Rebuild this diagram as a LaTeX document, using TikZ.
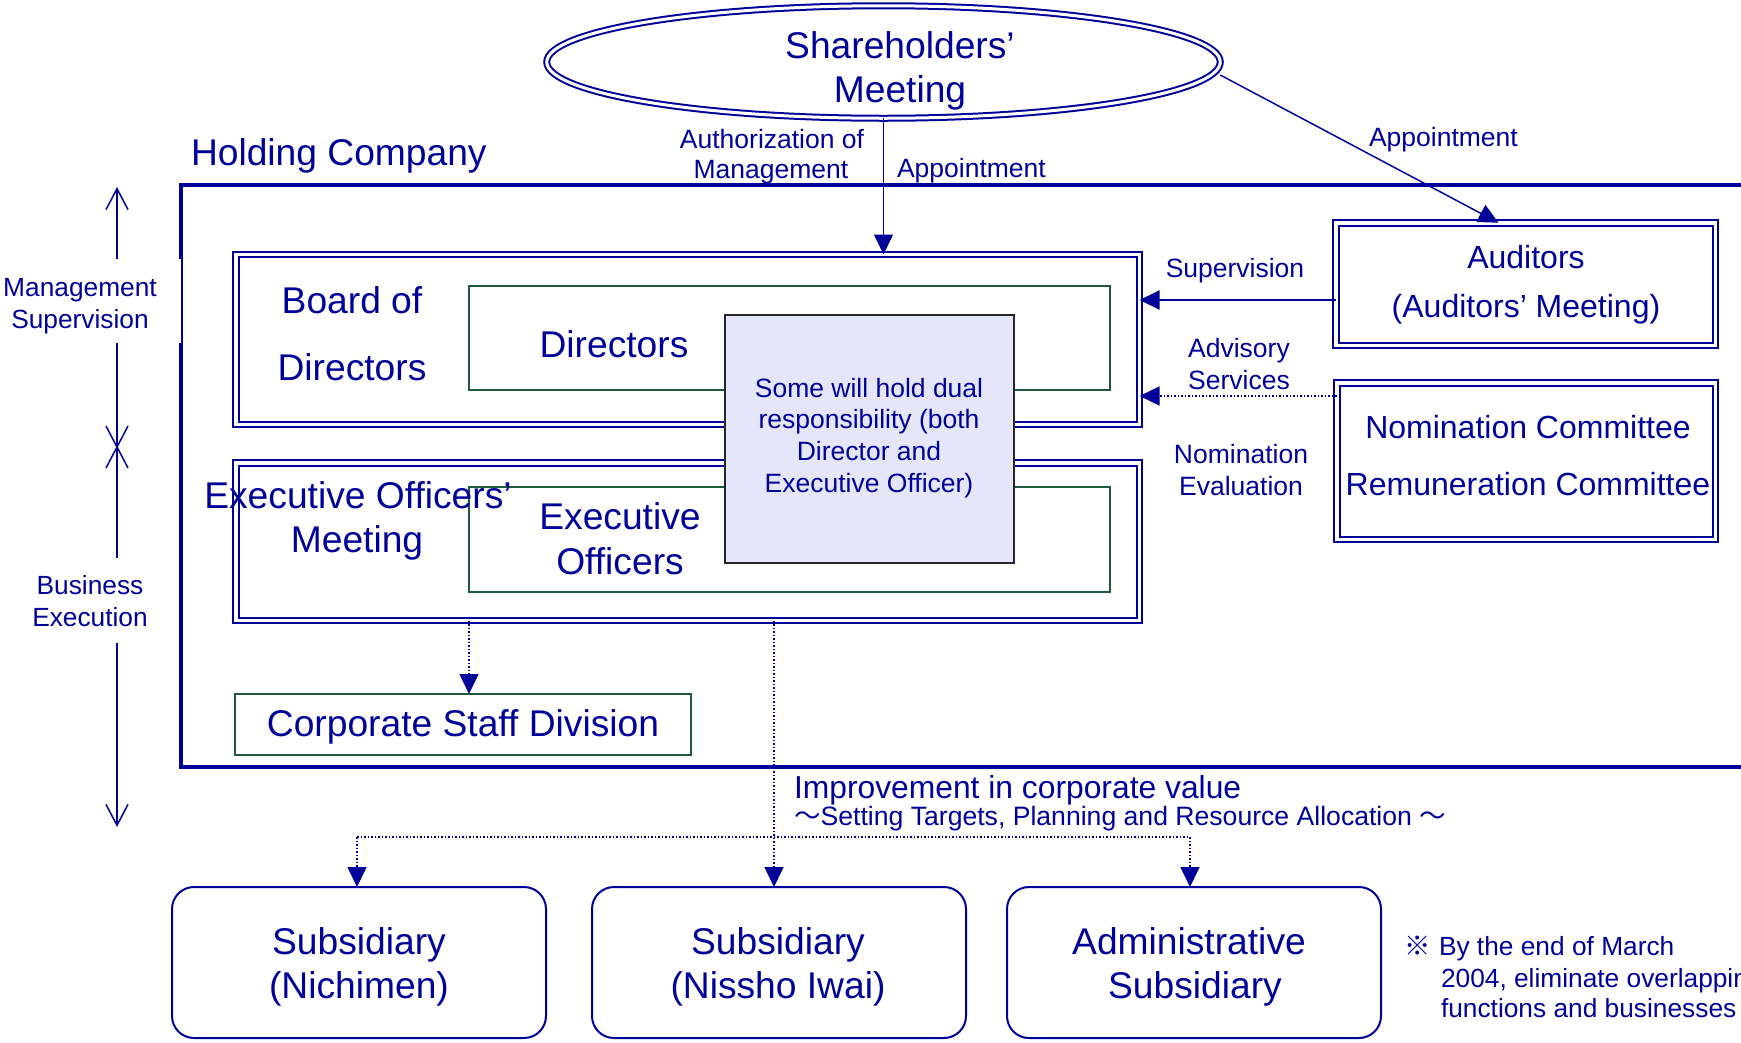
\documentclass[tikz,border=0pt]{standalone}
\usepackage{fontspec}
\setmainfont{Liberation Sans}
\newfontfamily\cjkfont{Noto Sans CJK JP}
\usetikzlibrary{shapes.geometric,arrows.meta}
\definecolor{navy}{RGB}{0,0,153}
\definecolor{boxgreen}{RGB}{30,90,60}
\definecolor{lav}{RGB}{230,230,250}
\begin{document}
\begin{tikzpicture}[x=1pt,y=-1pt,
  lbl/.style={inner sep=0pt, outer sep=0pt, text=navy, anchor=base},
  lblw/.style={lbl, anchor=base west},
  fbig/.style={font=\fontsize{37.2}{40}\selectfont},
  fmid/.style={font=\fontsize{32}{36}\selectfont},
  fsmall/.style={font=\fontsize{26.5}{30}\selectfont},
  dblbox/.style={rectangle, draw=navy, double=white, line width=2pt, double distance=3.5pt, inner sep=0pt, outer sep=0pt},
  greenbox/.style={rectangle, draw=boxgreen, line width=2pt, inner sep=0pt, outer sep=0pt},
  subbox/.style={rectangle, draw=navy, line width=2pt, rounded corners=22pt, inner sep=0pt, outer sep=0pt},
  solidarrow/.style={-{Triangle[length=20pt,width=19pt]}},
  conn/.style={draw=navy, line width=1.5pt},
  dotconn/.style={draw=navy, line width=1.5pt, dash pattern=on 1.5pt off 2pt},
  openends/.style={{Straight Barb[length=21pt,width=22pt]}-{Straight Barb[length=21pt,width=22pt]}},
]
\clip (0,0) rectangle (1741,1042);

% outer frame of the holding company
\node[rectangle, draw=navy, line width=4.5pt, inner sep=0pt, outer sep=0pt,
      minimum width=1579pt, minimum height=582pt] (hold) at (970.5,476) {};
\node[lblw, fbig] (holdtxt) at (191,165) {Holding Company};

% shareholders' meeting
\node[ellipse, draw=navy, double=white, line width=2pt, double distance=3pt,
      inner sep=0pt, outer sep=0pt, minimum width=673.5pt, minimum height=112.5pt] (share) at (883.5,62) {};
\node[lbl, fbig] (sharet1) at (900,58) {Shareholders’};
\node[lbl, fbig] (sharet2) at (900,102) {Meeting};

% board and executive officers' meeting
\node[dblbox, minimum width=903.5pt, minimum height=170pt] (board) at (687.75,339.5) {};
\node[dblbox, minimum width=903.5pt, minimum height=157.5pt] (exec) at (687.75,541.75) {};
\node[greenbox, minimum width=641pt, minimum height=104pt] (dir) at (789.5,338) {};
\node[greenbox, minimum width=641pt, minimum height=105pt] (eo) at (789.5,539.5) {};
\node[rectangle, draw=black!85, fill=lav, line width=2pt, inner sep=0pt, outer sep=0pt,
      minimum width=289pt, minimum height=248pt] (dual) at (869.5,439) {};

\node[lbl, fbig] (boardt1) at (352,313) {Board of};
\node[lbl, fbig] (boardt2) at (352,380) {Directors};
\node[lbl, fbig] (dirt) at (614,357) {Directors};
\node[lbl, fbig] (exect1) at (358,508) {Executive Officers’};
\node[lbl, fbig] (exect2) at (357,552) {Meeting};
\node[lbl, fbig] (eot1) at (620,529) {Executive};
\node[lbl, fbig] (eot2) at (620,574) {Officers};
\node[lbl, fsmall] (dualt1) at (869,397) {Some will hold dual};
\node[lbl, fsmall] (dualt2) at (869,428) {responsibility (both};
\node[lbl, fsmall] (dualt3) at (869,460) {Director and};
\node[lbl, fsmall] (dualt4) at (869,492) {Executive Officer)};

% corporate staff
\node[greenbox, minimum width=456pt, minimum height=61pt] (corp) at (463,724.5) {};
\node[lbl, fbig] (corpt) at (463,736) {Corporate Staff Division};

% auditors and committees
\node[dblbox, minimum width=379.5pt, minimum height=122.5pt] (aud) at (1525.5,284) {};
\node[lbl, fmid] (audt1) at (1526,268) {Auditors};
\node[lbl, fmid] (audt2) at (1526,317) {(Auditors’ Meeting)};
\node[dblbox, minimum width=378.5pt, minimum height=156.5pt] (nom) at (1526,461) {};
\node[lbl, fmid] (nomt1) at (1528,438) {Nomination Committee};
\node[lbl, fmid] (nomt2) at (1528,495) {Remuneration Committee};

% subsidiaries
\node[subbox, minimum width=374pt, minimum height=151pt] (sub1) at (359,962.5) {};
\node[subbox, minimum width=374pt, minimum height=151pt] (sub2) at (779,962.5) {};
\node[subbox, minimum width=374pt, minimum height=151pt] (sub3) at (1194,962.5) {};
\node[lbl, fbig] (sub1t1) at (359,954) {Subsidiary};
\node[lbl, fbig] (sub1t2) at (359,998) {(Nichimen)};
\node[lbl, fbig] (sub2t1) at (778,954) {Subsidiary};
\node[lbl, fbig] (sub2t2) at (778,998) {(Nissho Iwai)};
\node[lbl, fbig] (sub3t1) at (1189,954) {Administrative};
\node[lbl, fbig] (sub3t2) at (1195,998) {Subsidiary};

% connectors from the shareholders' meeting
\draw[conn, navy, solidarrow] (share.south) -- (share.south |- board.north);
\draw[conn, navy, solidarrow] ([yshift=-13pt]share.east) -- ([xshift=-27pt]aud.north);
\node[lbl, fsmall] (authA) at (772,148) {Authorization of};
\node[lbl, fsmall] (authB) at (771,178) {Management};
\node[lblw, fsmall] (appt1) at (897,177) {Appointment};
\node[lblw, fsmall] (appt2) at (1369,146) {Appointment};

% connectors into the board
\draw[navy, line width=2pt, solidarrow] ([yshift=-16pt]aud.west) -- ([yshift=-16pt]aud.west -| board.east);
\draw[dotconn, solidarrow] ([yshift=65pt]nom.west) -- ([yshift=65pt]nom.west -| board.east);
\node[lbl, fsmall] (supt) at (1235,277) {Supervision};
\node[lbl, fsmall] (advt1) at (1239,357) {Advisory};
\node[lbl, fsmall] (advt2) at (1239,389) {Services};
\node[lbl, fsmall] (nevt1) at (1241,463) {Nomination};
\node[lbl, fsmall] (nevt2) at (1241,495) {Evaluation};

% downward dotted connectors
\draw[dotconn, solidarrow] (exec.south -| eo.west) -- (corp.north -| eo.west);
\coordinate (s1top) at ([xshift=-2pt]sub1.north);
\coordinate (s2top) at ([xshift=-5pt]sub2.north);
\coordinate (s3top) at ([xshift=-4pt]sub3.north);
\coordinate (branch) at (774,837);
\draw[dotconn, solidarrow] (exec.south -| s2top) -- (s2top);
\draw[dotconn, line width=2pt] (branch -| s1top) -- (branch -| s3top);
\draw[dotconn, solidarrow] (branch -| s1top) -- (s1top);
\draw[dotconn, solidarrow] (branch -| s3top) -- (s3top);
\node[lblw, font=\fontsize{31.8}{36}\selectfont] (impt) at (794,798) {Improvement in corporate value};
\node[lblw, font=\fontsize{26.6}{30}\selectfont] (sett) at (794,825) {{\cjkfont ～}Setting Targets, Planning and Resource Allocation {\cjkfont ～}};

% management supervision / business execution scale
\coordinate (scaletop) at (117,187);
\coordinate (scalemid) at (117,447);
\coordinate (scalebot) at (117,827);
\draw[navy, line width=1.5pt, {Straight Barb[length=21pt,width=22pt]}-{Straight Barb[length=21pt,width=22pt]}] (scaletop) -- (scalebot);
\draw[navy, line width=1.5pt] ([shift={(-11pt,21pt)}]scalemid) -- ([shift={(11pt,-21pt)}]scalemid);
\draw[navy, line width=1.5pt] ([shift={(11pt,21pt)}]scalemid) -- ([shift={(-11pt,-21pt)}]scalemid);
\node[fill=white, inner sep=0pt, outer sep=0pt, minimum width=181pt, minimum height=84pt] (msbg) at (90.5,301) {};
\node[fill=white, inner sep=0pt, outer sep=0pt, minimum width=140pt, minimum height=85pt] (bebg) at (90,600.5) {};
\node[lbl, font=\fontsize{26.3}{30}\selectfont] (mst1) at (80,296) {Management};
\node[lbl, font=\fontsize{26.3}{30}\selectfont] (mst2) at (80,328) {Supervision};
\node[lbl, font=\fontsize{26.3}{30}\selectfont] (bet1) at (90,594) {Business};
\node[lbl, font=\fontsize{26.3}{30}\selectfont] (bet2) at (90,626) {Execution};

% note
\node[lblw, font=\fontsize{26.3}{30}\selectfont\cjkfont] (notemark) at (1404,955) {※};
\node[lblw, font=\fontsize{26.3}{30}\selectfont] (note1) at (1439,955) {By the end of March};
\node[lblw, font=\fontsize{26.3}{30}\selectfont] (note2) at (1441,987) {2004, eliminate overlapping};
\node[lblw, font=\fontsize{26.3}{30}\selectfont] (note3) at (1441,1017) {functions and businesses};
\end{tikzpicture}
\end{document}
